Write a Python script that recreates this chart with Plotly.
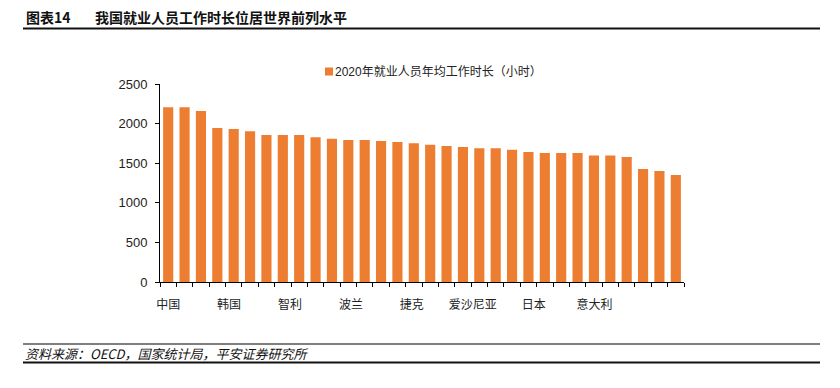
import plotly.graph_objects as go

# ---- data ----
series_name = "2020年就业人员年均工作时长（小时）"
hours = [2206, 2206, 2159, 1944, 1932, 1903, 1856, 1856, 1856, 1827,
         1810, 1793, 1793, 1780, 1768, 1751, 1734, 1718, 1705, 1688,
         1688, 1671, 1642, 1629, 1629, 1629, 1596, 1596, 1579, 1428,
         1403, 1352]
bar_index = list(range(len(hours)))
tick_labels = ["中国", "韩国", "智利", "波兰", "捷克", "爱沙尼亚", "日本", "意大利"]
y_ticks = [0, 500, 1000, 1500, 2000, 2500]

title_no = "图表14"
title_text = "我国就业人员工作时长位居世界前列水平"
source_text = "资料来源：OECD，国家统计局，平安证券研究所"

# ---- style ----
OFF = 8  # page body margin
W, H = 840 - 2 * OFF, 388 - 2 * OFF
L, R, T, B = 160 - OFF, 684 - OFF, 84 - OFF, 282 - OFF
ORANGE = "#ED7D31"
FONT = "Liberation Sans, Arial, Noto Sans CJK SC, sans-serif"
CJK = "Noto Sans CJK SC, sans-serif"
label_step = 3.72


def px(x):
    return (x - OFF - L) / (R - L)


def py(y):
    return (B - (y - OFF)) / (B - T)


fig = go.Figure()
fig.add_trace(go.Bar(
    x=bar_index, y=hours, name=series_name,
    marker=dict(color=ORANGE, line=dict(width=0)),
    width=0.62, showlegend=False,
))

shapes = [
    dict(type="line", xref="paper", yref="paper", x0=px(23), x1=px(820), y0=py(5), y1=py(5),
         line=dict(color="#1a1a1a", width=2)),
    dict(type="line", xref="paper", yref="paper", x0=px(23), x1=px(820), y0=py(28.5), y1=py(28.5),
         line=dict(color="#111111", width=2)),
    dict(type="line", xref="paper", yref="paper", x0=px(23), x1=px(820), y0=py(344), y1=py(344),
         line=dict(color="#555555", width=1.5)),
    dict(type="line", xref="paper", yref="paper", x0=px(23), x1=px(820), y0=py(362.5), y1=py(362.5),
         line=dict(color="#111111", width=2)),
    # legend swatch
    dict(type="rect", xref="paper", yref="paper", x0=px(325), x1=px(333), y0=py(75.5), y1=py(67.5),
         fillcolor=ORANGE, line=dict(width=0)),
]

annotations = [
    dict(text="<b>" + title_no + "</b>", xref="paper", yref="paper", x=px(25), y=py(17),
         xanchor="left", yanchor="middle", showarrow=False, borderpad=0,
         font=dict(family=CJK, size=14, color="#111111")),
    dict(text="<b>" + title_text + "</b>", xref="paper", yref="paper", x=px(94), y=py(17),
         xanchor="left", yanchor="middle", showarrow=False, borderpad=0,
         font=dict(family=CJK, size=14, color="#111111")),
    dict(text="<i>" + source_text + "</i>", xref="paper", yref="paper", x=px(24), y=py(353),
         xanchor="left", yanchor="middle", showarrow=False, borderpad=0,
         font=dict(family=CJK, size=13, color="#111111")),
    dict(text=series_name, xref="paper", yref="paper", x=px(333), y=py(71.5),
         xanchor="left", yanchor="middle", showarrow=False,
         font=dict(family=FONT, size=12, color="#222222")),
]

fig.update_layout(
    width=W, height=H,
    margin=dict(l=L, r=W - R, t=T, b=H - B, pad=0),
    paper_bgcolor="white", plot_bgcolor="white",
    font=dict(family=FONT, size=13, color="#222222"),
    shapes=shapes, annotations=annotations,
    bargap=0.38,
)

fig.update_xaxes(
    range=[-0.5, len(hours) - 0.5],
    tickmode="array",
    tickvals=[i * label_step for i in range(len(tick_labels))],
    ticktext=tick_labels,
    ticks="", ticklabelstandoff=12,
    tickfont=dict(family=CJK, size=12, color="#222222"),
    showline=True, linecolor="black", linewidth=1,
    showgrid=False, zeroline=False,
    minor=dict(tickmode="linear", tick0=-0.5, dtick=1, ticks="outside",
               ticklen=4, tickcolor="black", tickwidth=1, showgrid=False),
)

fig.update_yaxes(
    range=[0, 2500],
    tickmode="array", tickvals=y_ticks,
    ticks="outside", ticklen=4, tickcolor="black", tickwidth=1,
    ticklabelstandoff=5,
    tickfont=dict(family=FONT, size=13, color="#222222"),
    showline=True, linecolor="black", linewidth=1,
    showgrid=False, zeroline=False,
)

fig.write_html("out.html")
